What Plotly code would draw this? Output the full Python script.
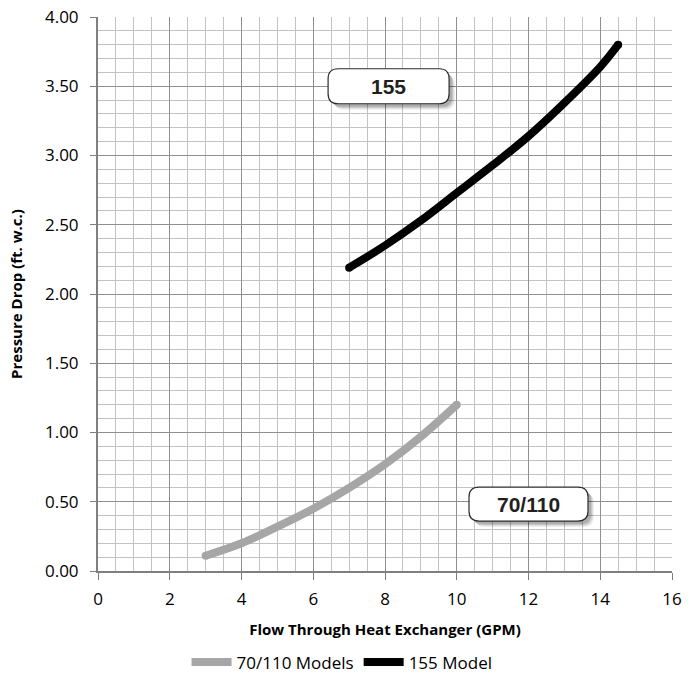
import plotly.graph_objects as go

# data
gpm_70_110 = [3, 4, 5, 6, 7, 8, 9, 10]
drop_70_110 = [0.11, 0.20, 0.32, 0.45, 0.60, 0.77, 0.97, 1.20]

gpm_155 = [7, 8, 9, 10, 11, 12, 13, 14, 14.5]
drop_155 = [2.19, 2.35, 2.53, 2.73, 2.93, 3.14, 3.38, 3.64, 3.80]

labels = ["155", "70/110"]
label_x = [8.1, 12.0]
label_y = [3.50, 0.483]

W, H = 691, 683
ML, MR, MT, MB = 98, 19, 17, 112
XMAX, YMAX = 16, 4
px_x = (W - ML - MR) / XMAX
px_y = (H - MT - MB) / YMAX


def rounded_box(cx, cy, w_px, h_px, r_px, dx_px=0, dy_px=0):
    w = w_px / px_x
    h = h_px / px_y
    rx = r_px / px_x
    ry = r_px / px_y
    x0 = cx - w / 2 + dx_px / px_x
    x1 = cx + w / 2 + dx_px / px_x
    y0 = cy - h / 2 - dy_px / px_y
    y1 = cy + h / 2 - dy_px / px_y
    return (f"M {x0+rx},{y0} L {x1-rx},{y0} Q {x1},{y0} {x1},{y0+ry} "
            f"L {x1},{y1-ry} Q {x1},{y1} {x1-rx},{y1} L {x0+rx},{y1} "
            f"Q {x0},{y1} {x0},{y1-ry} L {x0},{y0+ry} Q {x0},{y0} {x0+rx},{y0} Z")


fig = go.Figure()
fig.add_trace(go.Scatter(
    x=gpm_70_110, y=drop_70_110, mode="lines", name="70/110 Models",
    line=dict(color="#a6a6a6", width=8, shape="spline"),
))
fig.add_trace(go.Scatter(
    x=gpm_155, y=drop_155, mode="lines", name="155 Model",
    line=dict(color="#000000", width=8, shape="spline"),
))
# round end caps
fig.add_trace(go.Scatter(
    x=[gpm_70_110[0], gpm_70_110[-1]], y=[drop_70_110[0], drop_70_110[-1]],
    mode="markers", marker=dict(color="#a6a6a6", size=8), showlegend=False,
    hoverinfo="skip",
))
fig.add_trace(go.Scatter(
    x=[gpm_155[0], gpm_155[-1]], y=[drop_155[0], drop_155[-1]],
    mode="markers", marker=dict(color="#000000", size=8), showlegend=False,
    hoverinfo="skip",
))

sizes = [(121, 35), (119, 34)]
for txt, cx, cy, (bw, bh) in zip(labels, label_x, label_y, sizes):
    for off, alpha in [(6, 0.06), (5, 0.08), (4, 0.10), (3, 0.12)]:
        fig.add_shape(type="path", xref="x", yref="y", layer="above",
                      path=rounded_box(cx, cy, bw, bh, 10, off, off),
                      fillcolor=f"rgba(0,0,0,{alpha})", line=dict(width=0))
    fig.add_shape(type="path", xref="x", yref="y", layer="above",
                  path=rounded_box(cx, cy, bw, bh, 10),
                  fillcolor="white", line=dict(color="#2b2b2b", width=1.2))
    fig.add_annotation(x=cx, y=cy, text=f"<b>{txt}</b>", showarrow=False,
                       font=dict(family="Liberation Sans, Arial", size=21, color="#231f20"))

fig.update_layout(
    width=W, height=H,
    margin=dict(l=ML, r=MR, t=MT, b=MB),
    paper_bgcolor="white", plot_bgcolor="white",
    font=dict(family="Open Sans, sans-serif", size=17, color="#000000"),
    showlegend=True,
    legend=dict(orientation="h", xref="container", yref="container",
                x=0.495, xanchor="center", y=0.03, yanchor="middle",
                font=dict(size=17), itemwidth=40, tracegroupgap=0),
)
fig.update_xaxes(
    range=[0, XMAX], dtick=2, tick0=0, automargin=False,
    showgrid=True, gridcolor="#8f8f8f", gridwidth=1.3,
    minor=dict(dtick=0.5, showgrid=True, gridcolor="#c2c2c2", gridwidth=1.2),
    showline=True, linecolor="#7f7f7f", linewidth=2,
    ticks="outside", ticklen=7, tickcolor="#7f7f7f", ticklabelstandoff=5,
    zeroline=False,
    title=dict(text="<b>Flow Through Heat Exchanger (GPM)</b>", font=dict(size=15), standoff=15),
)
fig.update_yaxes(
    range=[0, YMAX], dtick=0.5, tick0=0, tickformat=".2f", automargin=False,
    showgrid=True, gridcolor="#8f8f8f", gridwidth=1.3,
    minor=dict(dtick=0.1, showgrid=True, gridcolor="#c2c2c2", gridwidth=1.2),
    showline=True, linecolor="#7f7f7f", linewidth=2,
    ticks="outside", ticklen=6, tickcolor="#7f7f7f", ticklabelstandoff=8,
    zeroline=False,
    title=dict(text="<b>Pressure Drop (ft. w.c.)</b>", font=dict(size=15), standoff=19),
)

fig.write_html("out.html", config={"displayModeBar": False},
               post_script="document.body.style.margin='0';")
